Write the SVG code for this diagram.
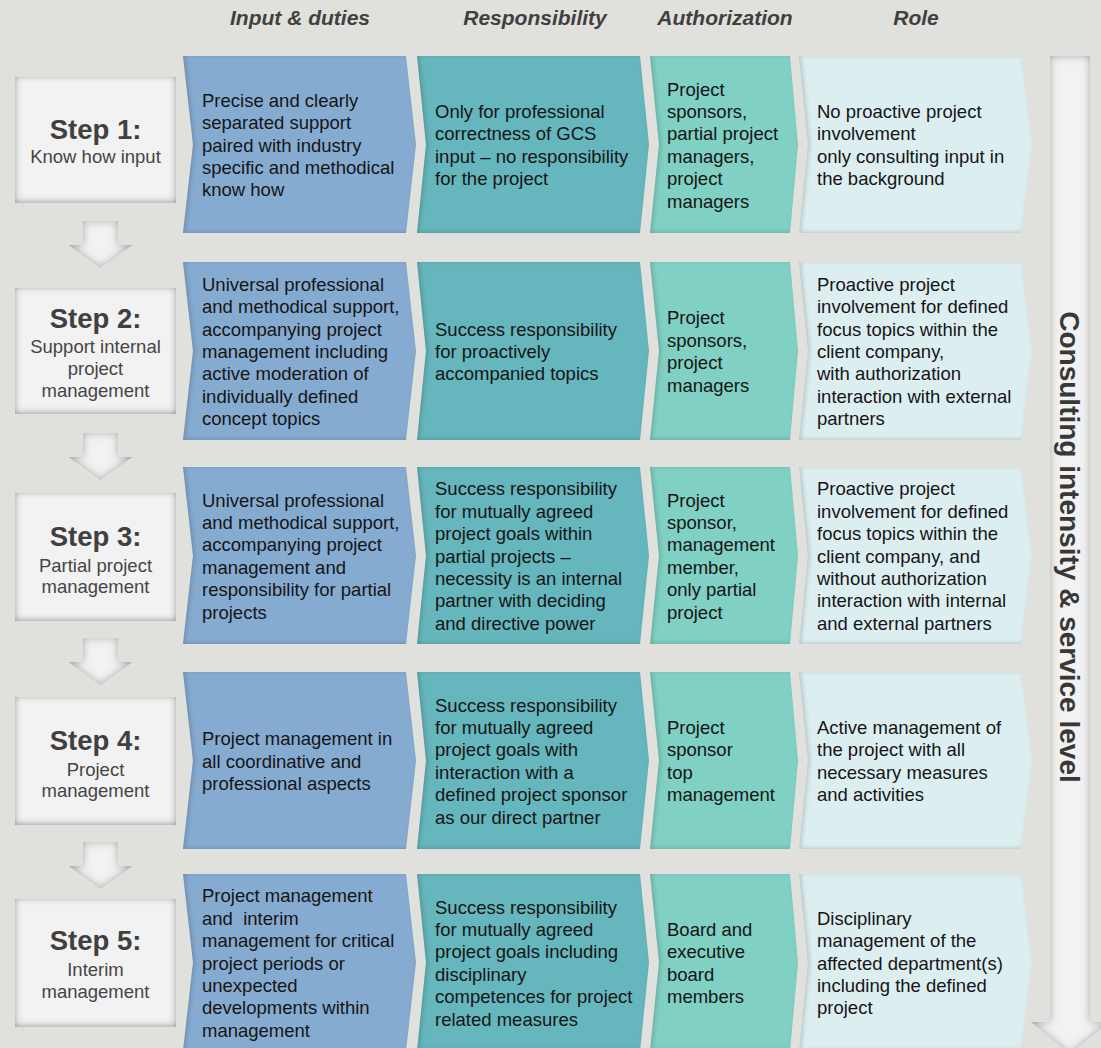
<svg xmlns="http://www.w3.org/2000/svg" width="1101" height="1048" viewBox="0 0 1101 1048">
<style>
.hdr{font-family:"Liberation Sans",Arial,sans-serif;font-style:italic;font-weight:bold;font-size:21px;fill:#404040;text-anchor:middle}
.t{font-family:"Liberation Sans",Arial,sans-serif;font-size:18.5px;fill:#151515}
.st{font-family:"Liberation Sans",Arial,sans-serif;font-weight:bold;font-size:27.5px;fill:#404040;text-anchor:middle}
.ss{font-family:"Liberation Sans",Arial,sans-serif;font-size:18.5px;fill:#454545;text-anchor:middle}
.vt{font-family:"Liberation Sans",Arial,sans-serif;font-weight:bold;font-size:28px;fill:#383838;text-anchor:middle}
.box{fill:#f2f2f2;filter:url(#inset)}
.c1{fill:#86abd1;filter:url(#edge)}
.c2{fill:#66b6bd;filter:url(#edge)}
.c3{fill:#80d0c3;filter:url(#edge)}
.c4{fill:#ddeef1;filter:url(#edge)}
.dn{fill:#f2f2f2;filter:url(#inset2)}
</style>
<defs>
<filter id="inset" x="-10%" y="-10%" width="120%" height="120%">
<feFlood flood-color="#8a8a8a" result="f"/>
<feComposite in="f" in2="SourceAlpha" operator="out" result="o"/>
<feGaussianBlur in="o" stdDeviation="3.5" result="b"/>
<feOffset in="b" dx="0" dy="-1" result="bo"/>
<feComposite in="bo" in2="SourceAlpha" operator="in" result="s"/>
<feMerge><feMergeNode in="SourceGraphic"/><feMergeNode in="s"/></feMerge>
</filter>
<filter id="inset2" x="-10%" y="-10%" width="120%" height="120%">
<feFlood flood-color="#9a9a9a" result="f"/>
<feComposite in="f" in2="SourceAlpha" operator="out" result="o"/>
<feGaussianBlur in="o" stdDeviation="4" result="b"/>
<feComposite in="b" in2="SourceAlpha" operator="in" result="s"/>
<feMerge><feMergeNode in="SourceGraphic"/><feMergeNode in="s"/></feMerge>
</filter>
<filter id="edge" x="-5%" y="-5%" width="110%" height="110%">
<feFlood flood-color="#000" flood-opacity="0.35" result="f"/>
<feComposite in="f" in2="SourceAlpha" operator="out" result="o"/>
<feGaussianBlur in="o" stdDeviation="2" result="b"/>
<feOffset in="b" dx="1.5" dy="-1.5" result="bo"/>
<feComposite in="bo" in2="SourceAlpha" operator="in" result="s"/>
<feMerge><feMergeNode in="SourceGraphic"/><feMergeNode in="s"/></feMerge>
</filter>
</defs>
<rect x="0" y="0" width="1101" height="1048" fill="#e0e0dc"/>

<g id="headers">
<text class="hdr" x="300" y="25">Input &amp; duties</text>
<text class="hdr" x="535" y="25">Responsibility</text>
<text class="hdr" x="725" y="25">Authorization</text>
<text class="hdr" x="916" y="25">Role</text>
</g>

<g id="connectors">
<path class="dn" d="M83,221 H118 V245 H132.5 L100.5,268 L68.5,245 H83 Z"/>
<path class="dn" d="M83,433 H118 V457 H132.5 L100.5,480 L68.5,457 H83 Z"/>
<path class="dn" d="M83,638 H118 V662 H132.5 L100.5,685 L68.5,662 H83 Z"/>
<path class="dn" d="M83,842 H118 V866 H132.5 L100.5,889 L68.5,866 H83 Z"/>
</g>

<g id="intensity-arrow">
<path class="dn" d="M1050,56 H1090 V1022 H1109 L1070,1054 L1031,1022 H1050 Z"/>
<text class="vt" transform="translate(1060,547) rotate(90)">Consulting intensity &amp; service level</text>
</g>

<!-- Row 1 -->
<g id="step1">
<rect class="box" x="15" y="77" width="161" height="126"/>
<text class="st" x="95.5" y="139">Step 1:</text>
<text class="ss" x="95.5" y="163">Know how input</text>
</g>
<g id="r1c1">
<path class="c1" d="M183,56 H406 L416,144.5 L406,233 H183 L193,144.5 Z"/>
<text class="t" x="202" y="106.7"><tspan x="202">Precise and clearly</tspan><tspan x="202" dy="22.4">separated support</tspan><tspan x="202" dy="22.4">paired with industry</tspan><tspan x="202" dy="22.4">specific and methodical</tspan><tspan x="202" dy="22.4">know how</tspan></text>
</g>
<g id="r1c2">
<path class="c2" d="M417,56 H640 L649,144.5 L640,233 H417 L426,144.5 Z"/>
<text class="t" x="435" y="117.9"><tspan x="435">Only for professional</tspan><tspan x="435" dy="22.4">correctness of GCS</tspan><tspan x="435" dy="22.4">input – no responsibility</tspan><tspan x="435" dy="22.4">for the project</tspan></text>
</g>
<g id="r1c3">
<path class="c3" d="M650,56 H790 L798,144.5 L790,233 H650 L659,144.5 Z"/>
<text class="t" x="667" y="95.5"><tspan x="667">Project</tspan><tspan x="667" dy="22.4">sponsors,</tspan><tspan x="667" dy="22.4">partial project</tspan><tspan x="667" dy="22.4">managers,</tspan><tspan x="667" dy="22.4">project</tspan><tspan x="667" dy="22.4">managers</tspan></text>
</g>
<g id="r1c4">
<path class="c4" d="M799,56 H1021 L1032,144.5 L1021,233 H799 L808,144.5 Z"/>
<text class="t" x="817" y="117.9"><tspan x="817">No proactive project</tspan><tspan x="817" dy="22.4">involvement</tspan><tspan x="817" dy="22.4">only consulting input in</tspan><tspan x="817" dy="22.4">the background</tspan></text>
</g>

<!-- Row 2 -->
<g id="step2">
<rect class="box" x="15" y="288" width="161" height="126"/>
<text class="st" x="95.5" y="327.5">Step 2:</text>
<text class="ss" x="95.5" y="353"><tspan x="95.5">Support internal</tspan><tspan x="95.5" dy="22">project</tspan><tspan x="95.5" dy="22">management</tspan></text>
</g>
<g id="r2c1">
<path class="c1" d="M183,262 H406 L416,351 L406,440 H183 L193,351 Z"/>
<text class="t" x="202" y="290.8"><tspan x="202">Universal professional</tspan><tspan x="202" dy="22.4">and methodical support,</tspan><tspan x="202" dy="22.4">accompanying project</tspan><tspan x="202" dy="22.4">management including</tspan><tspan x="202" dy="22.4">active moderation of</tspan><tspan x="202" dy="22.4">individually defined</tspan><tspan x="202" dy="22.4">concept topics</tspan></text>
</g>
<g id="r2c2">
<path class="c2" d="M417,262 H640 L649,351 L640,440 H417 L426,351 Z"/>
<text class="t" x="435" y="335.6"><tspan x="435">Success responsibility</tspan><tspan x="435" dy="22.4">for proactively</tspan><tspan x="435" dy="22.4">accompanied topics</tspan></text>
</g>
<g id="r2c3">
<path class="c3" d="M650,262 H790 L798,351 L790,440 H650 L659,351 Z"/>
<text class="t" x="667" y="324.4"><tspan x="667">Project</tspan><tspan x="667" dy="22.4">sponsors,</tspan><tspan x="667" dy="22.4">project</tspan><tspan x="667" dy="22.4">managers</tspan></text>
</g>
<g id="r2c4">
<path class="c4" d="M799,262 H1021 L1032,351 L1021,440 H799 L808,351 Z"/>
<text class="t" x="817" y="290.8"><tspan x="817">Proactive project</tspan><tspan x="817" dy="22.4">involvement for defined</tspan><tspan x="817" dy="22.4">focus topics within the</tspan><tspan x="817" dy="22.4">client company,</tspan><tspan x="817" dy="22.4">with authorization</tspan><tspan x="817" dy="22.4">interaction with external</tspan><tspan x="817" dy="22.4">partners</tspan></text>
</g>

<!-- Row 3 -->
<g id="step3">
<rect class="box" x="15" y="493" width="161" height="128"/>
<text class="st" x="95.5" y="546">Step 3:</text>
<text class="ss" x="95.5" y="571.5"><tspan x="95.5">Partial project</tspan><tspan x="95.5" dy="21.5">management</tspan></text>
</g>
<g id="r3c1">
<path class="c1" d="M183,467 H406 L416,555.5 L406,644 H183 L193,555.5 Z"/>
<text class="t" x="202" y="506.5"><tspan x="202">Universal professional</tspan><tspan x="202" dy="22.4">and methodical support,</tspan><tspan x="202" dy="22.4">accompanying project</tspan><tspan x="202" dy="22.4">management and</tspan><tspan x="202" dy="22.4">responsibility for partial</tspan><tspan x="202" dy="22.4">projects</tspan></text>
</g>
<g id="r3c2">
<path class="c2" d="M417,467 H640 L649,555.5 L640,644 H417 L426,555.5 Z"/>
<text class="t" x="435" y="495.3"><tspan x="435">Success responsibility</tspan><tspan x="435" dy="22.4">for mutually agreed</tspan><tspan x="435" dy="22.4">project goals within</tspan><tspan x="435" dy="22.4">partial projects –</tspan><tspan x="435" dy="22.4">necessity is an internal</tspan><tspan x="435" dy="22.4">partner with deciding</tspan><tspan x="435" dy="22.4">and directive power</tspan></text>
</g>
<g id="r3c3">
<path class="c3" d="M650,467 H790 L798,555.5 L790,644 H650 L659,555.5 Z"/>
<text class="t" x="667" y="506.5"><tspan x="667">Project</tspan><tspan x="667" dy="22.4">sponsor,</tspan><tspan x="667" dy="22.4">management</tspan><tspan x="667" dy="22.4">member,</tspan><tspan x="667" dy="22.4">only partial</tspan><tspan x="667" dy="22.4">project</tspan></text>
</g>
<g id="r3c4">
<path class="c4" d="M799,467 H1021 L1032,555.5 L1021,644 H799 L808,555.5 Z"/>
<text class="t" x="817" y="495.3"><tspan x="817">Proactive project</tspan><tspan x="817" dy="22.4">involvement for defined</tspan><tspan x="817" dy="22.4">focus topics within the</tspan><tspan x="817" dy="22.4">client company, and</tspan><tspan x="817" dy="22.4">without authorization</tspan><tspan x="817" dy="22.4">interaction with internal</tspan><tspan x="817" dy="22.4">and external partners</tspan></text>
</g>

<!-- Row 4 -->
<g id="step4">
<rect class="box" x="15" y="697" width="161" height="128"/>
<text class="st" x="95.5" y="750">Step 4:</text>
<text class="ss" x="95.5" y="775.5"><tspan x="95.5">Project</tspan><tspan x="95.5" dy="21.5">management</tspan></text>
</g>
<g id="r4c1">
<path class="c1" d="M183,672 H406 L416,760.5 L406,849 H183 L193,760.5 Z"/>
<text class="t" x="202" y="745.1"><tspan x="202">Project management in</tspan><tspan x="202" dy="22.4">all coordinative and</tspan><tspan x="202" dy="22.4">professional aspects</tspan></text>
</g>
<g id="r4c2">
<path class="c2" d="M417,672 H640 L649,760.5 L640,849 H417 L426,760.5 Z"/>
<text class="t" x="435" y="711.5"><tspan x="435">Success responsibility</tspan><tspan x="435" dy="22.4">for mutually agreed</tspan><tspan x="435" dy="22.4">project goals with</tspan><tspan x="435" dy="22.4">interaction with a</tspan><tspan x="435" dy="22.4">defined project sponsor</tspan><tspan x="435" dy="22.4">as our direct partner</tspan></text>
</g>
<g id="r4c3">
<path class="c3" d="M650,672 H790 L798,760.5 L790,849 H650 L659,760.5 Z"/>
<text class="t" x="667" y="733.9"><tspan x="667">Project</tspan><tspan x="667" dy="22.4">sponsor</tspan><tspan x="667" dy="22.4">top</tspan><tspan x="667" dy="22.4">management</tspan></text>
</g>
<g id="r4c4">
<path class="c4" d="M799,672 H1021 L1032,760.5 L1021,849 H799 L808,760.5 Z"/>
<text class="t" x="817" y="733.9"><tspan x="817">Active management of</tspan><tspan x="817" dy="22.4">the project with all</tspan><tspan x="817" dy="22.4">necessary measures</tspan><tspan x="817" dy="22.4">and activities</tspan></text>
</g>

<!-- Row 5 -->
<g id="step5">
<rect class="box" x="15" y="899" width="161" height="128"/>
<text class="st" x="95.5" y="950">Step 5:</text>
<text class="ss" x="95.5" y="976"><tspan x="95.5">Interim</tspan><tspan x="95.5" dy="22">management</tspan></text>
</g>
<g id="r5c1">
<path class="c1" d="M183,874 H406 L416,962.5 L406,1051 H183 L193,962.5 Z"/>
<text class="t" x="202" y="902.3" xml:space="preserve"><tspan x="202">Project management</tspan><tspan x="202" dy="22.4">and  interim</tspan><tspan x="202" dy="22.4">management for critical</tspan><tspan x="202" dy="22.4">project periods or</tspan><tspan x="202" dy="22.4">unexpected</tspan><tspan x="202" dy="22.4">developments within</tspan><tspan x="202" dy="22.4">management</tspan></text>
</g>
<g id="r5c2">
<path class="c2" d="M417,874 H640 L649,962.5 L640,1051 H417 L426,962.5 Z"/>
<text class="t" x="435" y="913.5"><tspan x="435">Success responsibility</tspan><tspan x="435" dy="22.4">for mutually agreed</tspan><tspan x="435" dy="22.4">project goals including</tspan><tspan x="435" dy="22.4">disciplinary</tspan><tspan x="435" dy="22.4">competences for project</tspan><tspan x="435" dy="22.4">related measures</tspan></text>
</g>
<g id="r5c3">
<path class="c3" d="M650,874 H790 L798,962.5 L790,1051 H650 L659,962.5 Z"/>
<text class="t" x="667" y="935.9"><tspan x="667">Board and</tspan><tspan x="667" dy="22.4">executive</tspan><tspan x="667" dy="22.4">board</tspan><tspan x="667" dy="22.4">members</tspan></text>
</g>
<g id="r5c4">
<path class="c4" d="M799,874 H1021 L1032,962.5 L1021,1051 H799 L808,962.5 Z"/>
<text class="t" x="817" y="924.7"><tspan x="817">Disciplinary</tspan><tspan x="817" dy="22.4">management of the</tspan><tspan x="817" dy="22.4">affected department(s)</tspan><tspan x="817" dy="22.4">including the defined</tspan><tspan x="817" dy="22.4">project</tspan></text>
</g>
</svg>
